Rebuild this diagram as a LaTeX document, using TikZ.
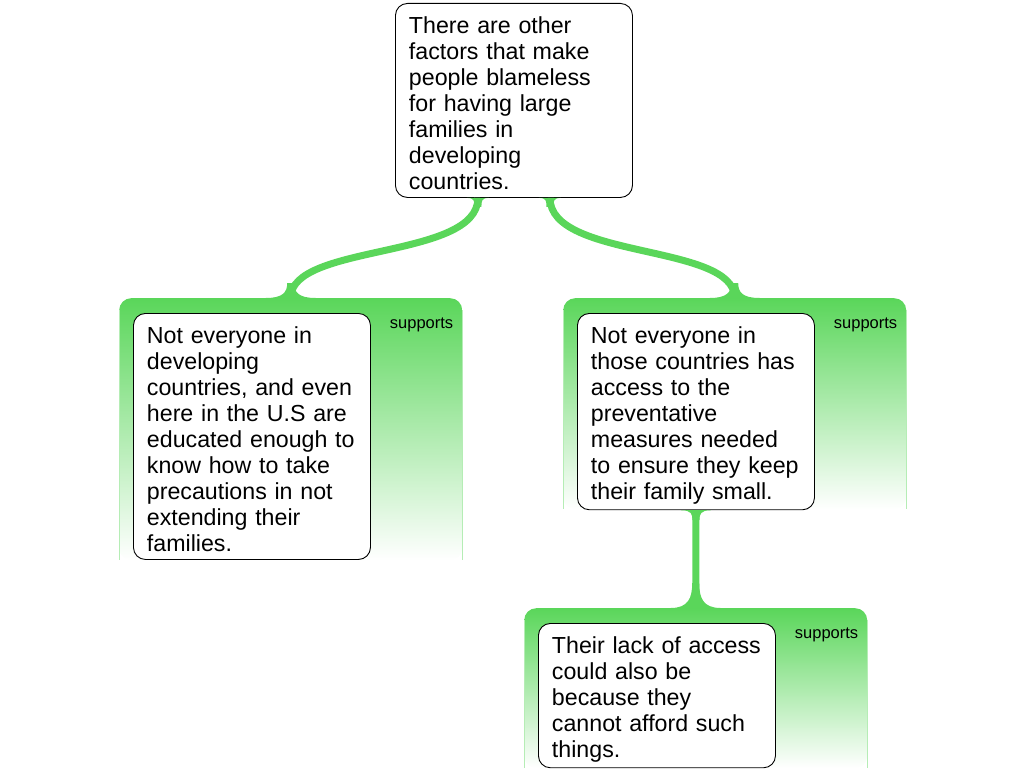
\documentclass[tikz,border=0pt]{standalone}
\usepackage{fontspec}
\setmainfont{Liberation Sans}
\usetikzlibrary{calc}

\definecolor{linkgreen}{RGB}{90,214,90}

% concave end of a link: point, half width, height, direction (+1 down, -1 up)
\newcommand{\flare}[4]{%
  \fill[linkgreen] ($(#1)+(-#2,0)$) .. controls +(0.7*#2,0) and +(0,{-0.6*(#4)*#3}) .. ($(#1)+(-3.5,{(#4)*#3})$)
    -- ($(#1)+(3.5,{(#4)*#3})$) .. controls +(0,{-0.6*(#4)*#3}) and +(-0.7*#2,0) .. ($(#1)+(#2,0)$) -- cycle;}
\newcommand{\firstline}{\rule{0pt}{25.5pt}}
\newcommand{\lastline}{\rule[-2.5pt]{0pt}{2.5pt}}

\begin{document}
\begin{tikzpicture}[x=1pt, y=-1pt,
    box/.style={draw, fill=white, rounded corners=12pt, line width=0.9pt, text width=210pt,
        inner xsep=13.5pt, inner ysep=5pt, align=left, anchor=north west,
        font=\fontsize{23.2}{26}\selectfont},
    panel/.style={rounded corners=12pt, top color=linkgreen, bottom color=white,
        minimum width=343pt, anchor=north west, inner sep=0pt},
    panelside/.style={draw=linkgreen!45, line width=1pt},
    tag/.style={font=\fontsize{16.5}{19}\selectfont, anchor=east, inner sep=0pt},
    link/.style={draw=linkgreen, line width=7pt}]
    \useasboundingbox (0,0) rectangle (1024,768);

    % Green panels behind the reasons
    \node[panel, minimum height=262pt] (panA) at (119,298) {};
    \node[panel, minimum height=211pt] (panB) at (563,298) {};
    \node[panel, minimum height=160pt] (panC) at (524,608) {};
    \draw[panelside] ([yshift=-12pt]panA.north west) -- (panA.south west);
    \draw[panelside] ([yshift=-12pt]panA.north east) -- (panA.south east);
    \draw[panelside] ([yshift=-12pt]panB.north west) -- (panB.south west);
    \draw[panelside] ([yshift=-12pt]panB.north east) -- (panB.south east);
    \draw[panelside] ([yshift=-12pt]panC.north west) -- (panC.south west);
    \draw[panelside] ([yshift=-12pt]panC.north east) -- (panC.south east);

    % Relation tags
    \node[tag] (tagA) at ([xshift=-9pt, yshift=-26.5pt]panA.north east) {supports};
    \node[tag] (tagB) at ([xshift=-9pt, yshift=-26.5pt]panB.north east) {supports};
    \node[tag] (tagC) at ([xshift=-9pt, yshift=-26.5pt]panC.north east) {supports};

    % Claim and reasons
    \node[box] (claim) at (395,3) {\firstline There are other\\ factors that make\\ people blameless\\
        for having large\\ families in\\ developing\\ countries.\lastline};
    \node[box] (reasonA) at (133,313) {\firstline Not everyone in\\ developing\\ countries, and even\\
        here in the U.S are\\ educated enough to\\ know how to take\\ precautions in not\\
        extending their\\ families.\lastline};
    \node[box] (reasonB) at (577,313) {\firstline Not everyone in\\ those countries has\\ access to the\\
        preventative\\ measures needed\\ to ensure they keep\\ their family small.\lastline};
    \node[box] (reasonC) at (538,623) {\firstline Their lack of access\\ could also be\\ because they\\
        cannot afford such\\ things.\lastline};

    % Links
    \coordinate (claimA) at ([xshift=-36pt]claim.south);
    \coordinate (claimB) at ([xshift=36pt]claim.south);
    \draw[link] (claimA) .. controls +(0,62) and +(0,-55) .. (panA.north);
    \draw[link] (claimB) .. controls +(0,62) and +(0,-55) .. (panB.north);
    \draw[link] (reasonB.south) -- (panC.north);
    \flare{claimA}{11}{9}{1}
    \flare{claimB}{11}{9}{1}
    \flare{panA.north}{25}{15}{-1}
    \flare{panB.north}{25}{15}{-1}
    \flare{reasonB.south}{15}{10}{1}
    \flare{panC.north}{25}{25}{-1}
\end{tikzpicture}
\end{document}
